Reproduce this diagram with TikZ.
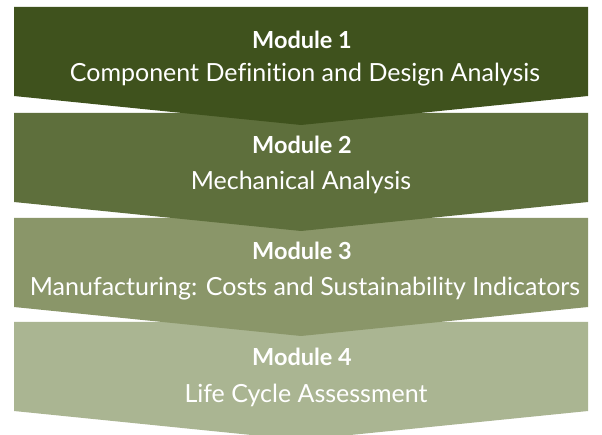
\documentclass[tikz,border=0pt]{standalone}
\usepackage{fontspec}
\setmainfont{Lato}[Ligatures=NoCommon]
\definecolor{cA}{HTML}{3F521D}
\definecolor{cB}{HTML}{5E6F3C}
\definecolor{cC}{HTML}{8A9669}
\definecolor{cD}{HTML}{AAB592}
\tikzset{
  chev/.style={fill=#1, draw=none},
  title/.style={text=white, font=\fontsize{23.5}{26}\selectfont\bfseries, inner sep=0pt},
  sub/.style={text=white, font=\fontsize{25}{28}\selectfont, inner sep=0pt}
}
\newcommand{\chevron}[2]{%
  \fill[chev=#1] (14,#2) -- (588,#2) -- (588,#2+89) -- (301,#2+118) -- (14,#2+89) -- cycle;}
\begin{document}
\begin{tikzpicture}[x=1pt,y=-1pt]
\useasboundingbox (0,0) rectangle (602,435);
\clip (0,0) rectangle (602,435);
\fill[white] (0,0) rectangle (602,435);
\chevron{cD}{322}
\chevron{cC}{218}
\chevron{cB}{113}
\chevron{cA}{7}
\node[title] (t1) at (302,40) {Module 1};
\node[sub] (s1) at (305,75) {Component Definition and Design Analysis};
\node[title] (t2) at (302,145) {Module 2};
\node[sub] (s2) at (301,182) {Mechanical Analysis};
\node[title] (t3) at (302,251) {Module 3};
\node[sub] (s3) at (305,289) {Manufacturing: Costs and Sustainability Indicators};
\node[title] (t4) at (302,357) {Module 4};
\node[sub] (s4) at (306,395) {Life Cycle Assessment};
\end{tikzpicture}
\end{document}
